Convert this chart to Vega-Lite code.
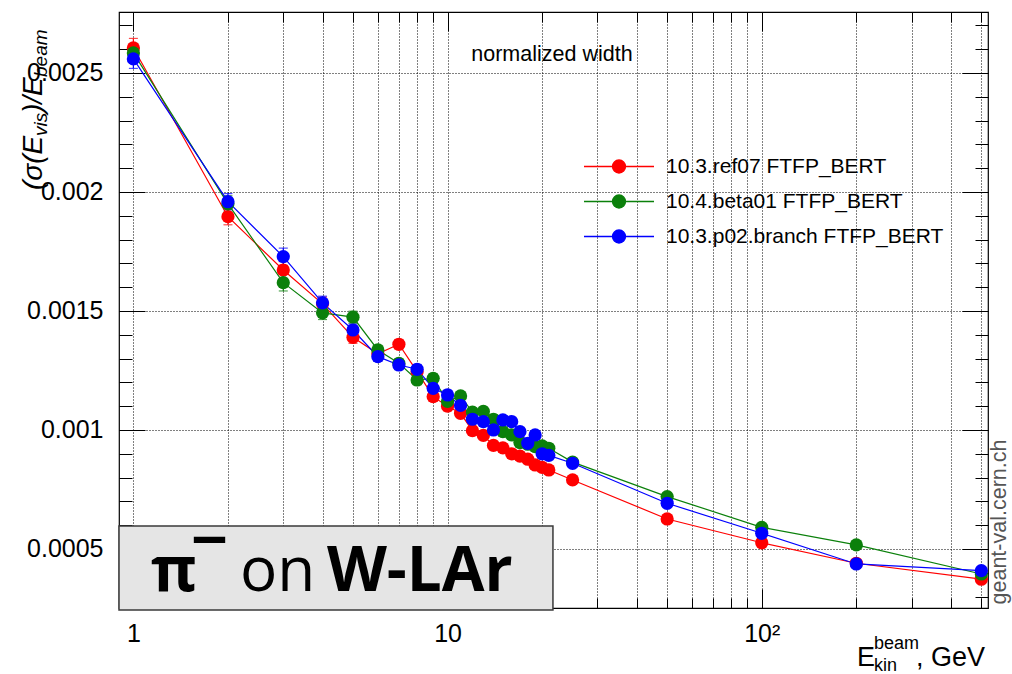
{
  "$schema": "https://vega.github.io/schema/vega-lite/v6.json",
  "width": 869,
  "height": 596,
  "autosize": {"type": "none"},
  "padding": {"left": 119, "top": 12, "right": 24, "bottom": 66},
  "background": "#ffffff",
  "config": {
    "font": "Liberation Sans",
    "view": {"stroke": "#000000", "strokeWidth": 1.2},
    "axis": {
      "domain": false,
      "tickColor": "#000000",
      "tickWidth": 1,
      "labelColor": "#000000",
      "labelFont": "Liberation Sans",
      "labelFontSize": 25,
      "gridColor": "#000000",
      "gridDash": [1, 2],
      "gridOpacity": 1,
      "gridWidth": 1,
      "labelFlush": false,
      "labelOverlap": false
    }
  },
  "datasets": {
    "series": [
      {"s": "10.3.ref07 FTFP_BERT", "E": 1, "v": 0.002605, "err": 0.00004},
      {"s": "10.3.ref07 FTFP_BERT", "E": 2, "v": 0.001896, "err": 0.000034},
      {"s": "10.3.ref07 FTFP_BERT", "E": 3, "v": 0.001672, "err": 0.000035},
      {"s": "10.3.ref07 FTFP_BERT", "E": 4, "v": 0.00153, "err": 0.000028},
      {"s": "10.3.ref07 FTFP_BERT", "E": 5, "v": 0.001389, "err": 0.000025},
      {"s": "10.3.ref07 FTFP_BERT", "E": 6, "v": 0.00132, "err": 0.00002},
      {"s": "10.3.ref07 FTFP_BERT", "E": 7, "v": 0.00136, "err": 0.00002},
      {"s": "10.3.ref07 FTFP_BERT", "E": 8, "v": 0.001245, "err": 0.00002},
      {"s": "10.3.ref07 FTFP_BERT", "E": 9, "v": 0.00114, "err": 0.00002},
      {"s": "10.3.ref07 FTFP_BERT", "E": 10, "v": 0.0011, "err": 0.00002},
      {"s": "10.3.ref07 FTFP_BERT", "E": 11, "v": 0.00107, "err": 0.000018},
      {"s": "10.3.ref07 FTFP_BERT", "E": 12, "v": 0.000997, "err": 0.000018},
      {"s": "10.3.ref07 FTFP_BERT", "E": 13, "v": 0.000977, "err": 0.000018},
      {"s": "10.3.ref07 FTFP_BERT", "E": 14, "v": 0.000935, "err": 0.000018},
      {"s": "10.3.ref07 FTFP_BERT", "E": 15, "v": 0.000925, "err": 0.000018},
      {"s": "10.3.ref07 FTFP_BERT", "E": 16, "v": 0.0009, "err": 0.000018},
      {"s": "10.3.ref07 FTFP_BERT", "E": 17, "v": 0.00089, "err": 0.000018},
      {"s": "10.3.ref07 FTFP_BERT", "E": 18, "v": 0.000877, "err": 0.000018},
      {"s": "10.3.ref07 FTFP_BERT", "E": 19, "v": 0.000853, "err": 0.000018},
      {"s": "10.3.ref07 FTFP_BERT", "E": 20, "v": 0.000843, "err": 0.000018},
      {"s": "10.3.ref07 FTFP_BERT", "E": 21, "v": 0.000832, "err": 0.000018},
      {"s": "10.3.ref07 FTFP_BERT", "E": 25, "v": 0.00079, "err": 0.000016},
      {"s": "10.3.ref07 FTFP_BERT", "E": 50, "v": 0.000626, "err": 0.000015},
      {"s": "10.3.ref07 FTFP_BERT", "E": 100, "v": 0.000526, "err": 0.000015},
      {"s": "10.3.ref07 FTFP_BERT", "E": 200, "v": 0.00044, "err": 0.000015},
      {"s": "10.3.ref07 FTFP_BERT", "E": 500, "v": 0.000373, "err": 0.000015},
      {"s": "10.4.beta01 FTFP_BERT", "E": 1, "v": 0.002584, "err": 0.00004},
      {"s": "10.4.beta01 FTFP_BERT", "E": 2, "v": 0.00195, "err": 0.000034},
      {"s": "10.4.beta01 FTFP_BERT", "E": 3, "v": 0.001619, "err": 0.000035},
      {"s": "10.4.beta01 FTFP_BERT", "E": 4, "v": 0.001492, "err": 0.000028},
      {"s": "10.4.beta01 FTFP_BERT", "E": 5, "v": 0.001474, "err": 0.000025},
      {"s": "10.4.beta01 FTFP_BERT", "E": 6, "v": 0.001336, "err": 0.00002},
      {"s": "10.4.beta01 FTFP_BERT", "E": 7, "v": 0.00128, "err": 0.00002},
      {"s": "10.4.beta01 FTFP_BERT", "E": 8, "v": 0.00121, "err": 0.00002},
      {"s": "10.4.beta01 FTFP_BERT", "E": 9, "v": 0.001217, "err": 0.00002},
      {"s": "10.4.beta01 FTFP_BERT", "E": 10, "v": 0.00112, "err": 0.00002},
      {"s": "10.4.beta01 FTFP_BERT", "E": 11, "v": 0.001143, "err": 0.000018},
      {"s": "10.4.beta01 FTFP_BERT", "E": 12, "v": 0.001075, "err": 0.000018},
      {"s": "10.4.beta01 FTFP_BERT", "E": 13, "v": 0.001078, "err": 0.000018},
      {"s": "10.4.beta01 FTFP_BERT", "E": 14, "v": 0.001045, "err": 0.000018},
      {"s": "10.4.beta01 FTFP_BERT", "E": 15, "v": 0.000993, "err": 0.000018},
      {"s": "10.4.beta01 FTFP_BERT", "E": 16, "v": 0.000979, "err": 0.000018},
      {"s": "10.4.beta01 FTFP_BERT", "E": 17, "v": 0.000947, "err": 0.000018},
      {"s": "10.4.beta01 FTFP_BERT", "E": 18, "v": 0.00094, "err": 0.000018},
      {"s": "10.4.beta01 FTFP_BERT", "E": 19, "v": 0.00093, "err": 0.000018},
      {"s": "10.4.beta01 FTFP_BERT", "E": 20, "v": 0.000933, "err": 0.000018},
      {"s": "10.4.beta01 FTFP_BERT", "E": 21, "v": 0.000923, "err": 0.000018},
      {"s": "10.4.beta01 FTFP_BERT", "E": 25, "v": 0.000865, "err": 0.000016},
      {"s": "10.4.beta01 FTFP_BERT", "E": 50, "v": 0.00072, "err": 0.000015},
      {"s": "10.4.beta01 FTFP_BERT", "E": 100, "v": 0.000591, "err": 0.000015},
      {"s": "10.4.beta01 FTFP_BERT", "E": 200, "v": 0.000517, "err": 0.000015},
      {"s": "10.4.beta01 FTFP_BERT", "E": 500, "v": 0.000395, "err": 0.000015},
      {"s": "10.3.p02.branch FTFP_BERT", "E": 1, "v": 0.002559, "err": 0.00004},
      {"s": "10.3.p02.branch FTFP_BERT", "E": 2, "v": 0.001959, "err": 0.000034},
      {"s": "10.3.p02.branch FTFP_BERT", "E": 3, "v": 0.001728, "err": 0.000036},
      {"s": "10.3.p02.branch FTFP_BERT", "E": 4, "v": 0.001534, "err": 0.000028},
      {"s": "10.3.p02.branch FTFP_BERT", "E": 5, "v": 0.00142, "err": 0.000025},
      {"s": "10.3.p02.branch FTFP_BERT", "E": 6, "v": 0.001308, "err": 0.00002},
      {"s": "10.3.p02.branch FTFP_BERT", "E": 7, "v": 0.001273, "err": 0.00002},
      {"s": "10.3.p02.branch FTFP_BERT", "E": 8, "v": 0.001255, "err": 0.00002},
      {"s": "10.3.p02.branch FTFP_BERT", "E": 9, "v": 0.001175, "err": 0.00002},
      {"s": "10.3.p02.branch FTFP_BERT", "E": 10, "v": 0.001147, "err": 0.00002},
      {"s": "10.3.p02.branch FTFP_BERT", "E": 11, "v": 0.001103, "err": 0.000018},
      {"s": "10.3.p02.branch FTFP_BERT", "E": 12, "v": 0.001045, "err": 0.000018},
      {"s": "10.3.p02.branch FTFP_BERT", "E": 13, "v": 0.001035, "err": 0.000018},
      {"s": "10.3.p02.branch FTFP_BERT", "E": 14, "v": 0.0010, "err": 0.000018},
      {"s": "10.3.p02.branch FTFP_BERT", "E": 15, "v": 0.001042, "err": 0.000018},
      {"s": "10.3.p02.branch FTFP_BERT", "E": 16, "v": 0.001035, "err": 0.000018},
      {"s": "10.3.p02.branch FTFP_BERT", "E": 17, "v": 0.000993, "err": 0.000018},
      {"s": "10.3.p02.branch FTFP_BERT", "E": 18, "v": 0.000944, "err": 0.000018},
      {"s": "10.3.p02.branch FTFP_BERT", "E": 19, "v": 0.000979, "err": 0.000018},
      {"s": "10.3.p02.branch FTFP_BERT", "E": 20, "v": 0.0009, "err": 0.000018},
      {"s": "10.3.p02.branch FTFP_BERT", "E": 21, "v": 0.000893, "err": 0.000018},
      {"s": "10.3.p02.branch FTFP_BERT", "E": 25, "v": 0.00086, "err": 0.000016},
      {"s": "10.3.p02.branch FTFP_BERT", "E": 50, "v": 0.000692, "err": 0.000015},
      {"s": "10.3.p02.branch FTFP_BERT", "E": 100, "v": 0.000566, "err": 0.000015},
      {"s": "10.3.p02.branch FTFP_BERT", "E": 200, "v": 0.000437, "err": 0.000015},
      {"s": "10.3.p02.branch FTFP_BERT", "E": 500, "v": 0.000409, "err": 0.000015}
    ],
    "box": [{"E": 0.9, "E2": 21.65, "v": 0.0005965, "v2": 0.000244}],
    "boxBold": [
      {"t": "π", "E": 1.138, "v": 0.0003234},
      {"t": "¯", "E": 1.559, "v": 0.0003234},
      {"t": "W-LAr", "E": 4.13, "v": 0.0003234}
    ],
    "boxPlain": [{"t": "on", "E": 2.184, "v": 0.0003234}],
    "note": [{"t": "normalized width", "E": 21.49, "v": 0.0025753}],
    "site": [{"t": "geant-val.cern.ch", "E": 572.8, "v": 0.0006133}],
    "yTitleMain": [
      {"t": "(σ(E", "E": 0.5118, "v": 0.0020082},
      {"t": ")/E", "E": 0.5118, "v": 0.0023317}
    ],
    "yTitleSub": [
      {"t": "vis", "E": 0.531, "v": 0.002235},
      {"t": "beam", "E": 0.531, "v": 0.0024829}
    ],
    "xTitleMain": [
      {"t": "E", "E": 200.9, "v": 0.0000083},
      {"t": ", GeV", "E": 309.7, "v": 0.0000083}
    ],
    "xTitleSmall": [
      {"t": "beam", "E": 227.6, "v": 0.0000797},
      {"t": "kin", "E": 227.6, "v": -0.0000127}
    ]
  },
  "resolve": {"axis": {"x": "independent", "y": "independent"}},
  "layer": [
    {
      "data": {"name": "series"},
      "mark": {"type": "errorbar", "ticks": {"size": 9}, "thickness": 1.2},
      "encoding": {
        "x": {"field": "E", "type": "quantitative", "scale": {"type": "log", "domain": [0.9, 525], "nice": false}, "axis": null},
        "y": {"field": "v", "type": "quantitative", "scale": {"domain": [0.000252, 0.002756], "nice": false, "zero": false}, "axis": null},
        "yError": {"field": "err"},
        "color": {"field": "s", "type": "nominal", "scale": {"domain": ["10.3.ref07 FTFP_BERT", "10.4.beta01 FTFP_BERT", "10.3.p02.branch FTFP_BERT"], "range": ["#ff0000", "#0b800b", "#0000ff"]}}
      }
    },
    {
      "data": {"name": "series"},
      "mark": {"type": "line", "strokeWidth": 1.2},
      "encoding": {
        "x": {"field": "E", "type": "quantitative", "scale": {"type": "log", "domain": [0.9, 525], "nice": false},
          "axis": {"title": null, "orient": "bottom", "values": [1, 2, 3, 4, 5, 6, 7, 8, 9, 10, 20, 30, 40, 50, 60, 70, 80, 90, 100, 200, 300, 400, 500],
            "labelExpr": "datum.value == 1 ? '1' : datum.value == 10 ? '10' : datum.value == 100 ? '10²' : ''",
            "ticks": false, "grid": true, "labelPadding": 13, "labelBaseline": "top", "labelAlign": "center"}},
        "y": {"field": "v", "type": "quantitative", "scale": {"domain": [0.000252, 0.002756], "nice": false, "zero": false},
          "axis": {"title": null, "orient": "left", "values": [0.0005, 0.001, 0.0015, 0.002, 0.0025], "format": "~g", "ticks": false, "grid": true, "labelPadding": 16, "labelAlign": "right", "labelBaseline": "middle"}},
        "color": {"field": "s", "type": "nominal", "scale": {"domain": ["10.3.ref07 FTFP_BERT", "10.4.beta01 FTFP_BERT", "10.3.p02.branch FTFP_BERT"], "range": ["#ff0000", "#0b800b", "#0000ff"]}}
      }
    },
    {
      "data": {"name": "series"},
      "mark": {"type": "point", "filled": true, "size": 175, "opacity": 1},
      "encoding": {
        "x": {"field": "E", "type": "quantitative", "scale": {"type": "log", "domain": [0.9, 525], "nice": false},
          "axis": {"title": null, "orient": "top", "offset": -596, "values": [1, 10, 100], "labels": false, "ticks": true, "tickSize": 19, "grid": false}},
        "y": {"field": "v", "type": "quantitative", "scale": {"domain": [0.000252, 0.002756], "nice": false, "zero": false},
          "axis": {"title": null, "orient": "right", "offset": -869, "values": [0.0005, 0.001, 0.0015, 0.002, 0.0025], "labels": false, "ticks": true, "tickSize": 26, "grid": false}},
        "color": {"field": "s", "type": "nominal", "scale": {"domain": ["10.3.ref07 FTFP_BERT", "10.4.beta01 FTFP_BERT", "10.3.p02.branch FTFP_BERT"], "range": ["#ff0000", "#0b800b", "#0000ff"]},
          "legend": {"title": null, "orient": "none", "legendX": 464, "legendY": 137, "padding": 0,
            "symbolType": "M-1,0H1M-0.186,0A0.186,0.186,0,1,0,0.186,0A0.186,0.186,0,1,0,-0.186,0Z",
            "symbolSize": 4900, "symbolStrokeWidth": 1.3, "symbolOpacity": 1, "clipHeight": 35, "rowPadding": 0,
            "labelFont": "Liberation Sans", "labelFontSize": 21, "labelColor": "#000000", "labelOffset": 11, "labelLimit": 500,
            "encode": {"symbols": {"update": {"fill": {"scale": "color", "field": "value"}, "stroke": {"scale": "color", "field": "value"}, "strokeWidth": {"value": 1.3}, "opacity": {"value": 1}, "fillOpacity": {"value": 1}, "strokeOpacity": {"value": 1}}}}}}
      }
    },
    {
      "data": {"name": "box"},
      "mark": {"type": "rect", "fill": "#e5e5e5", "stroke": "#3a3a3a", "strokeWidth": 1.5},
      "encoding": {
        "x": {"field": "E", "type": "quantitative", "scale": {"type": "log", "domain": [0.9, 525], "nice": false},
          "axis": {"title": null, "orient": "top", "offset": -596, "values": [2, 3, 4, 5, 6, 7, 8, 9, 20, 30, 40, 50, 60, 70, 80, 90, 200, 300, 400, 500], "labels": false, "ticks": true, "tickSize": 10, "grid": false}},
        "x2": {"field": "E2"},
        "y": {"field": "v", "type": "quantitative", "scale": {"domain": [0.000252, 0.002756], "nice": false, "zero": false},
          "axis": {"title": null, "orient": "right", "offset": -869, "values": [0.0003, 0.0004, 0.0005, 0.0006, 0.0007, 0.0008, 0.0009, 0.001, 0.0011, 0.0012, 0.0013, 0.0014, 0.0015, 0.0016, 0.0017, 0.0018, 0.0019, 0.002, 0.0021, 0.0022, 0.0023, 0.0024, 0.0025, 0.0026, 0.0027], "labels": false, "ticks": true, "tickSize": 13, "grid": false}},
        "y2": {"field": "v2"}
      }
    },
    {
      "data": {"name": "note"},
      "mark": {"type": "text", "font": "Liberation Sans", "fontSize": 21.5, "color": "#000000", "align": "center", "baseline": "middle"},
      "encoding": {
        "x": {"field": "E", "type": "quantitative", "scale": {"type": "log", "domain": [0.9, 525], "nice": false},
          "axis": {"title": null, "orient": "bottom", "offset": -596, "values": [1, 10, 100], "labels": false, "ticks": true, "tickSize": 19, "grid": false}},
        "y": {"field": "v", "type": "quantitative", "scale": {"domain": [0.000252, 0.002756], "nice": false, "zero": false},
          "axis": {"title": null, "orient": "left", "offset": -869, "values": [0.0005, 0.001, 0.0015, 0.002, 0.0025], "labels": false, "ticks": true, "tickSize": 26, "grid": false}},
        "text": {"field": "t"}
      }
    },
    {
      "data": {"name": "site"},
      "mark": {"type": "text", "font": "Liberation Sans", "fontSize": 21.5, "color": "#555555", "align": "center", "baseline": "middle", "angle": 270},
      "encoding": {
        "x": {"field": "E", "type": "quantitative", "scale": {"type": "log", "domain": [0.9, 525], "nice": false},
          "axis": {"title": null, "orient": "bottom", "offset": -596, "values": [2, 3, 4, 5, 6, 7, 8, 9, 20, 30, 40, 50, 60, 70, 80, 90, 200, 300, 400, 500], "labels": false, "ticks": true, "tickSize": 10, "grid": false}},
        "y": {"field": "v", "type": "quantitative", "scale": {"domain": [0.000252, 0.002756], "nice": false, "zero": false},
          "axis": {"title": null, "orient": "left", "offset": -869, "values": [0.0003, 0.0004, 0.0005, 0.0006, 0.0007, 0.0008, 0.0009, 0.001, 0.0011, 0.0012, 0.0013, 0.0014, 0.0015, 0.0016, 0.0017, 0.0018, 0.0019, 0.002, 0.0021, 0.0022, 0.0023, 0.0024, 0.0025, 0.0026, 0.0027], "labels": false, "ticks": true, "tickSize": 13, "grid": false}},
        "text": {"field": "t"}
      }
    },
    {
      "data": {"name": "boxBold"},
      "mark": {"type": "text", "font": "Open Sans", "fontSize": 62, "fontWeight": "bold", "color": "#000000", "align": "left", "baseline": "alphabetic"},
      "encoding": {
        "x": {"field": "E", "type": "quantitative", "scale": {"type": "log", "domain": [0.9, 525], "nice": false}, "axis": null},
        "y": {"field": "v", "type": "quantitative", "scale": {"domain": [0.000252, 0.002756], "nice": false, "zero": false}, "axis": null},
        "text": {"field": "t"}
      }
    },
    {
      "data": {"name": "boxPlain"},
      "mark": {"type": "text", "font": "Open Sans", "fontSize": 62, "color": "#000000", "align": "left", "baseline": "alphabetic"},
      "encoding": {
        "x": {"field": "E", "type": "quantitative", "scale": {"type": "log", "domain": [0.9, 525], "nice": false}, "axis": null},
        "y": {"field": "v", "type": "quantitative", "scale": {"domain": [0.000252, 0.002756], "nice": false, "zero": false}, "axis": null},
        "text": {"field": "t"}
      }
    },
    {
      "data": {"name": "yTitleMain"},
      "mark": {"type": "text", "font": "Liberation Sans", "fontSize": 28, "fontStyle": "italic", "color": "#000000", "align": "left", "baseline": "alphabetic", "angle": 270},
      "encoding": {
        "x": {"field": "E", "type": "quantitative", "scale": {"type": "log", "domain": [0.9, 525], "nice": false}, "axis": null},
        "y": {"field": "v", "type": "quantitative", "scale": {"domain": [0.000252, 0.002756], "nice": false, "zero": false}, "axis": null},
        "text": {"field": "t"}
      }
    },
    {
      "data": {"name": "yTitleSub"},
      "mark": {"type": "text", "font": "Liberation Sans", "fontSize": 19, "fontStyle": "italic", "color": "#000000", "align": "left", "baseline": "alphabetic", "angle": 270},
      "encoding": {
        "x": {"field": "E", "type": "quantitative", "scale": {"type": "log", "domain": [0.9, 525], "nice": false}, "axis": null},
        "y": {"field": "v", "type": "quantitative", "scale": {"domain": [0.000252, 0.002756], "nice": false, "zero": false}, "axis": null},
        "text": {"field": "t"}
      }
    },
    {
      "data": {"name": "xTitleMain"},
      "mark": {"type": "text", "font": "Liberation Sans", "fontSize": 27, "color": "#000000", "align": "left", "baseline": "alphabetic"},
      "encoding": {
        "x": {"field": "E", "type": "quantitative", "scale": {"type": "log", "domain": [0.9, 525], "nice": false}, "axis": null},
        "y": {"field": "v", "type": "quantitative", "scale": {"domain": [0.000252, 0.002756], "nice": false, "zero": false}, "axis": null},
        "text": {"field": "t"}
      }
    },
    {
      "data": {"name": "xTitleSmall"},
      "mark": {"type": "text", "font": "Liberation Sans", "fontSize": 18, "color": "#000000", "align": "left", "baseline": "alphabetic"},
      "encoding": {
        "x": {"field": "E", "type": "quantitative", "scale": {"type": "log", "domain": [0.9, 525], "nice": false}, "axis": null},
        "y": {"field": "v", "type": "quantitative", "scale": {"domain": [0.000252, 0.002756], "nice": false, "zero": false}, "axis": null},
        "text": {"field": "t"}
      }
    }
  ]
}
